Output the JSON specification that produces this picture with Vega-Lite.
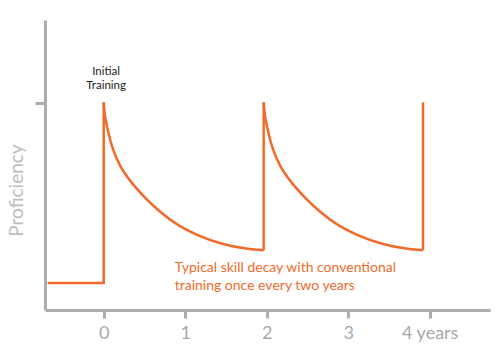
{
  "$schema": "https://vega.github.io/schema/vega-lite/v6.json",
  "width": 445,
  "height": 290,
  "autosize": "none",
  "padding": {"left": 45, "top": 20, "right": 10, "bottom": 50},
  "background": "white",
  "config": {"view": {"stroke": null}, "font": "Lato"},
  "datasets": {
    "jumps": [
      {"s": "a", "i": 1, "x": -0.687, "y": 9.3},
      {"s": "a", "i": 2, "x": 0, "y": 9.3},
      {"s": "a", "i": 3, "x": 0, "y": 71.6},
      {"s": "b", "i": 1, "x": 1.963, "y": 20.6},
      {"s": "b", "i": 2, "x": 1.963, "y": 71.6},
      {"s": "c", "i": 1, "x": 3.918, "y": 20.6},
      {"s": "c", "i": 2, "x": 3.918, "y": 71.6}
    ],
    "curve": [
      {"s": "c1", "x": 0, "y": 71.6},
      {"s": "c1", "x": 0.01, "y": 68.0},
      {"s": "c1", "x": 0.025, "y": 65.4},
      {"s": "c1", "x": 0.053, "y": 61.6},
      {"s": "c1", "x": 0.094, "y": 56.9},
      {"s": "c1", "x": 0.156, "y": 52.2},
      {"s": "c1", "x": 0.237, "y": 47.8},
      {"s": "c1", "x": 0.36, "y": 43.2},
      {"s": "c1", "x": 0.503, "y": 38.8},
      {"s": "c1", "x": 0.708, "y": 33.3},
      {"s": "c1", "x": 0.912, "y": 29.1},
      {"s": "c1", "x": 1.137, "y": 25.9},
      {"s": "c1", "x": 1.464, "y": 22.4},
      {"s": "c1", "x": 1.791, "y": 20.9},
      {"s": "c1", "x": 1.963, "y": 20.6},
      {"s": "c2", "x": 1.963, "y": 71.6},
      {"s": "c2", "x": 1.973, "y": 68.0},
      {"s": "c2", "x": 1.988, "y": 65.4},
      {"s": "c2", "x": 2.016, "y": 61.6},
      {"s": "c2", "x": 2.057, "y": 56.9},
      {"s": "c2", "x": 2.119, "y": 52.2},
      {"s": "c2", "x": 2.2, "y": 47.8},
      {"s": "c2", "x": 2.323, "y": 43.2},
      {"s": "c2", "x": 2.466, "y": 38.8},
      {"s": "c2", "x": 2.671, "y": 33.3},
      {"s": "c2", "x": 2.875, "y": 29.1},
      {"s": "c2", "x": 3.1, "y": 25.9},
      {"s": "c2", "x": 3.427, "y": 22.4},
      {"s": "c2", "x": 3.754, "y": 20.9},
      {"s": "c2", "x": 3.918, "y": 20.6}
    ],
    "notes": [
      {"x": 0.03, "y": 82.1, "t": "Initial", "g": "black"},
      {"x": 0.03, "y": 77.2, "t": "Training", "g": "black"},
      {"x": 0.871, "y": 14.5, "t": "Typical skill decay with conventional", "g": "orange"},
      {"x": 0.871, "y": 8.3, "t": "training once every two years", "g": "orange"}
    ]
  },
  "layer": [
    {
      "data": {"name": "jumps"},
      "mark": {"type": "line", "color": "#F26A2A", "strokeWidth": 2.5, "interpolate": "linear", "strokeJoin": "miter"},
      "encoding": {
        "x": {
          "field": "x", "type": "quantitative",
          "scale": {"domain": [-0.72, 4.74], "nice": false, "zero": false},
          "axis": {
            "values": [0, 1, 2, 3, 4],
            "format": "d",
            "grid": false,
            "title": null,
            "domainColor": "#ADADB1",
            "domainWidth": 3,
            "tickColor": "#ADADB1",
            "tickWidth": 3,
            "tickSize": 8,
            "labelFont": "Lato",
            "labelFontSize": 18,
            "labelColor": "#A9A9AC",
            "labelPadding": 6,
            "labelExpr": "datum.value == 4 ? '4 years' : datum.label",
            "encode": {
              "labels": {
                "update": {
                  "align": {"signal": "datum.value == 4 ? 'left' : 'center'"},
                  "dx": {"signal": "datum.value == 4 ? -5 : 0"}
                }
              }
            }
          }
        },
        "y": {
          "field": "y", "type": "quantitative",
          "scale": {"domain": [0, 100], "nice": false},
          "axis": {
            "values": [71.4],
            "grid": false,
            "labels": false,
            "title": "Proficiency",
            "titleFont": "Lato",
            "titleFontSize": 19,
            "titleFontWeight": "normal",
            "titleColor": "#BDBDC0",
            "titleY": 170,
            "titleX": -23,
            "titleAlign": "center",
            "titleAngle": -90,
            "titleBaseline": "alphabetic",
            "domainColor": "#ADADB1",
            "domainWidth": 3,
            "tickColor": "#ADADB1",
            "tickWidth": 3,
            "tickSize": 10
          }
        },
        "detail": {"field": "s"},
        "order": {"field": "i", "type": "quantitative"}
      }
    },
    {
      "data": {"name": "curve"},
      "mark": {"type": "line", "color": "#F26A2A", "strokeWidth": 2.5, "interpolate": "basis"},
      "encoding": {
        "x": {"field": "x", "type": "quantitative"},
        "y": {"field": "y", "type": "quantitative"},
        "detail": {"field": "s"}
      }
    },
    {
      "data": {"name": "notes"},
      "transform": [{"filter": "datum.g == 'black'"}],
      "mark": {"type": "text", "fontSize": 11.5, "color": "#1a1a1a", "align": "center", "baseline": "middle", "font": "Lato"},
      "encoding": {
        "x": {"field": "x", "type": "quantitative"},
        "y": {"field": "y", "type": "quantitative"},
        "text": {"field": "t"}
      }
    },
    {
      "data": {"name": "notes"},
      "transform": [{"filter": "datum.g == 'orange'"}],
      "mark": {"type": "text", "fontSize": 14, "color": "#F26A2A", "align": "left", "baseline": "middle", "font": "Lato"},
      "encoding": {
        "x": {"field": "x", "type": "quantitative"},
        "y": {"field": "y", "type": "quantitative"},
        "text": {"field": "t"}
      }
    }
  ]
}
